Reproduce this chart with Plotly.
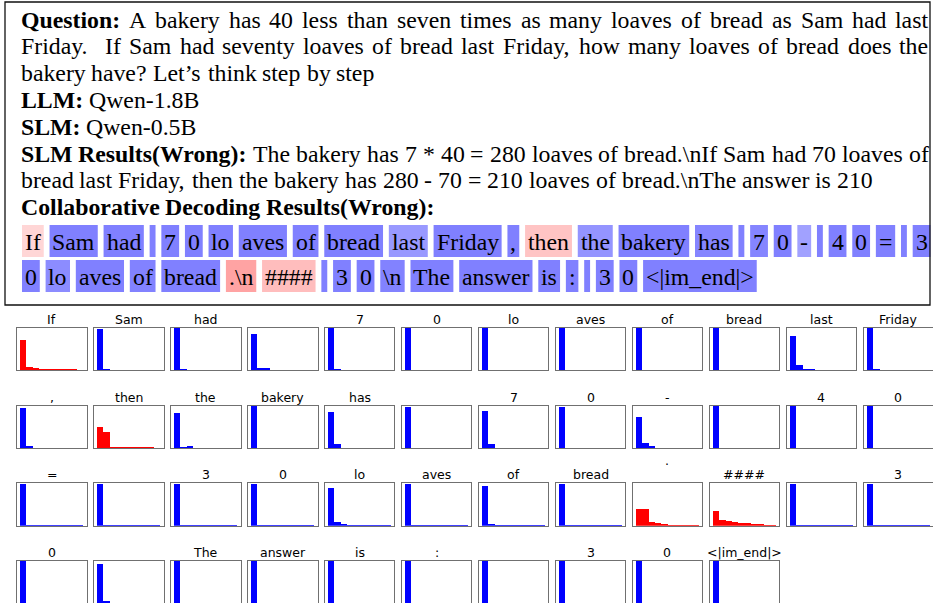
import plotly.graph_objects as go

W, H = 933, 603

# ---------------- data ----------------
paragraph = [
    ("Question:", "A bakery has 40 less than seven times as many loaves of bread as Sam had last", True),
    ("", "Friday.  If Sam had seventy loaves of bread last Friday, how many loaves of bread does the", True),
    ("", "bakery have? Let\u2019s think step by step", False),
    ("LLM:", "Qwen-1.8B", False),
    ("SLM:", "Qwen-0.5B", False),
    ("SLM Results(Wrong):", "The bakery has 7 * 40 = 280 loaves of bread.\\nIf Sam had 70 loaves of", True),
    ("", "bread last Friday, then the bakery has 280 - 70 = 210 loaves of bread.\\nThe answer is 210", False),
    ("Collaborative Decoding Results(Wrong):", "", False),
]

tokens = ["If", "Sam", "had", " ", "7", "0", "lo", "aves", "of", "bread", "last", "Friday",
          ",", "then", "the", "bakery", "has", " ", "7", "0", "-", " ", "4", "0",
          "=", " ", "3", "0", "lo", "aves", "of", "bread", ".\n", "####", " ", "3",
          "0", "\n", "The", "answer", "is", ":", " ", "3", "0", "<|im_end|>"]

# 'L' = token from the large model (red), 'S' = small model (blue)
token_source = ["L", "S", "S", "S", "S", "S", "S", "S", "S", "S", "S", "S",
                "S", "L", "S", "S", "S", "S", "S", "S", "S", "S", "S", "S",
                "S", "S", "S", "S", "S", "S", "S", "S", "L", "L", "S", "S",
                "S", "S", "S", "S", "S", "S", "S", "S", "S", "S"]

# highlight intensity of each token in the decoded text
token_shade = [0.16, 0.5, 0.5, 0.5, 0.5, 0.5, 0.5, 0.5, 0.5, 0.5, 0.4, 0.5,
               0.5, 0.23, 0.42, 0.5, 0.48, 0.5, 0.48, 0.5, 0.37, 0.5, 0.5, 0.5,
               0.5, 0.5, 0.5, 0.5, 0.45, 0.5, 0.49, 0.5, 0.36, 0.26, 0.5, 0.5,
               0.5, 0.49, 0.5, 0.5, 0.5, 0.5, 0.5, 0.5, 0.5, 0.5]

tokens_first_line = 27

# top-10 next-token probabilities per decoding step
probs = [
    [0.71, 0.09, 0.05, 0.03, 0.03, 0.02, 0.02, 0.02, 0.02, 0.01],  # If
    [0.97, 0.02, 0.01, 0.01, 0.01, 0.01, 0.01, 0.01, 0.01, 0.01],  # Sam
    [0.99, 0.02, 0.01, 0.01, 0.01, 0.01, 0.01, 0.01, 0.01, 0.01],  # had
    [0.87, 0.07, 0.05, 0.01, 0.01, 0.01, 0.01, 0.01, 0.01, 0.01],  # ' '
    [0.99, 0.02, 0.01, 0.01, 0.01, 0.01, 0.01, 0.01, 0.01, 0.01],  # 7
    [0.99, 0.01, 0.01, 0.01, 0.01, 0.01, 0.01, 0.01, 0.01, 0.01],  # 0
    [0.99, 0.01, 0.01, 0.01, 0.01, 0.01, 0.01, 0.01, 0.01, 0.01],  # lo
    [0.99, 0.01, 0.01, 0.01, 0.01, 0.01, 0.01, 0.01, 0.01, 0.01],  # aves
    [0.99, 0.01, 0.01, 0.01, 0.01, 0.01, 0.01, 0.01, 0.01, 0.01],  # of
    [0.99, 0.01, 0.01, 0.01, 0.01, 0.01, 0.01, 0.01, 0.01, 0.01],  # bread
    [0.81, 0.12, 0.04, 0.03, 0.01, 0.01, 0.01, 0.01, 0.01, 0.01],  # last
    [0.99, 0.02, 0.01, 0.01, 0.01, 0.01, 0.01, 0.01, 0.01, 0.01],  # Friday
    [0.95, 0.06, 0.01, 0.01, 0.01, 0.01, 0.01, 0.01, 0.01, 0.01],  # ,
    [0.51, 0.39, 0.04, 0.02, 0.02, 0.02, 0.02, 0.02, 0.02, 0.01],  # then
    [0.84, 0.04, 0.05, 0.01, 0.01, 0.01, 0.01, 0.01, 0.01, 0.01],  # the
    [1.00, 0.01, 0.01, 0.01, 0.01, 0.01, 0.01, 0.01, 0.01, 0.01],  # bakery
    [0.86, 0.11, 0.01, 0.01, 0.01, 0.01, 0.01, 0.01, 0.01, 0.01],  # has
    [0.98, 0.01, 0.01, 0.01, 0.01, 0.01, 0.01, 0.01, 0.01, 0.01],  # ' '
    [0.88, 0.11, 0.01, 0.01, 0.01, 0.01, 0.01, 0.01, 0.01, 0.01],  # 7
    [0.98, 0.01, 0.01, 0.01, 0.01, 0.01, 0.01, 0.01, 0.01, 0.01],  # 0
    [0.74, 0.13, 0.06, 0.01, 0.01, 0.01, 0.01, 0.01, 0.01, 0.01],  # -
    [1.00, 0.01, 0.01, 0.01, 0.01, 0.01, 0.01, 0.01, 0.01, 0.01],  # ' '
    [1.00, 0.01, 0.01, 0.01, 0.01, 0.01, 0.01, 0.01, 0.01, 0.01],  # 4
    [1.00, 0.01, 0.01, 0.01, 0.01, 0.01, 0.01, 0.01, 0.01, 0.01],  # 0
    [0.98, 0.01, 0.01, 0.01, 0.01, 0.01, 0.01, 0.01, 0.01, 0.01],  # =
    [0.98, 0.01, 0.01, 0.01, 0.01, 0.01, 0.01, 0.01, 0.01, 0.01],  # ' '
    [0.98, 0.01, 0.01, 0.01, 0.01, 0.01, 0.01, 0.01, 0.01, 0.01],  # 3
    [0.98, 0.01, 0.01, 0.01, 0.01, 0.01, 0.01, 0.01, 0.01, 0.01],  # 0
    [0.875, 0.08, 0.04, 0.01, 0.01, 0.01, 0.01, 0.01, 0.01, 0.01],  # lo
    [0.98, 0.01, 0.01, 0.01, 0.01, 0.01, 0.01, 0.01, 0.01, 0.01],  # aves
    [0.92, 0.03, 0.01, 0.01, 0.01, 0.01, 0.01, 0.01, 0.01, 0.01],  # of
    [0.98, 0.01, 0.01, 0.01, 0.01, 0.01, 0.01, 0.01, 0.01, 0.01],  # bread
    [0.38, 0.38, 0.08, 0.05, 0.03, 0.01, 0.01, 0.01, 0.01, 0.01],  # .\n
    [0.33, 0.13, 0.10, 0.08, 0.06, 0.06, 0.04, 0.04, 0.01, 0.01],  # ####
    [0.98, 0.01, 0.01, 0.01, 0.01, 0.01, 0.01, 0.01, 0.01, 0.01],  # ' '
    [0.98, 0.01, 0.01, 0.01, 0.01, 0.01, 0.01, 0.01, 0.01, 0.01],  # 3
    [1.00, 0.0, 0.0, 0.0, 0.0, 0.0, 0.0, 0.0, 0.0, 0.0],  # 0
    [0.94, 0.05, 0.0, 0.0, 0.0, 0.0, 0.0, 0.0, 0.0, 0.0],  # \n
    [1.00, 0.0, 0.0, 0.0, 0.0, 0.0, 0.0, 0.0, 0.0, 0.0],  # The
    [1.00, 0.0, 0.0, 0.0, 0.0, 0.0, 0.0, 0.0, 0.0, 0.0],  # answer
    [1.00, 0.0, 0.0, 0.0, 0.0, 0.0, 0.0, 0.0, 0.0, 0.0],  # is
    [1.00, 0.0, 0.0, 0.0, 0.0, 0.0, 0.0, 0.0, 0.0, 0.0],  # :
    [1.00, 0.0, 0.0, 0.0, 0.0, 0.0, 0.0, 0.0, 0.0, 0.0],  # ' '
    [1.00, 0.0, 0.0, 0.0, 0.0, 0.0, 0.0, 0.0, 0.0, 0.0],  # 3
    [1.00, 0.0, 0.0, 0.0, 0.0, 0.0, 0.0, 0.0, 0.0, 0.0],  # 0
    [1.00, 0.0, 0.0, 0.0, 0.0, 0.0, 0.0, 0.0, 0.0, 0.0],  # <|im_end|>
]
ranks = list(range(10))

# ---------------- font metrics (Times, per 1000 em) ----------------
_reg = dict(zip("abcdefghijklmnopqrstuvwxyz",
                [444, 500, 444, 500, 444, 333, 500, 500, 278, 278, 500, 278, 778,
                 500, 500, 500, 500, 333, 389, 278, 500, 500, 722, 500, 500, 444]))
_reg.update(zip("ABCDEFGHIJKLMNOPQRSTUVWXYZ",
                [722, 667, 667, 722, 611, 556, 722, 722, 333, 389, 722, 611, 889,
                 722, 722, 556, 722, 667, 556, 611, 722, 722, 944, 722, 722, 611]))
_reg.update({c: 500 for c in "0123456789"})
_reg.update({" ": 250, "#": 500, "(": 333, ")": 333, "*": 500, ",": 250, "-": 333, ".": 250,
             ":": 278, "<": 564, "=": 564, ">": 564, "?": 444, "\\": 278, "_": 500, "|": 200,
             "\u2019": 333})
_bold = dict(zip("abcdefghijklmnopqrstuvwxyz",
                 [500, 556, 444, 556, 444, 333, 500, 556, 278, 333, 556, 278, 833,
                  556, 500, 556, 556, 444, 389, 333, 556, 500, 722, 500, 500, 444]))
_bold.update(zip("ABCDEFGHIJKLMNOPQRSTUVWXYZ",
                 [722, 667, 722, 722, 667, 611, 778, 778, 389, 500, 778, 667, 944,
                  722, 778, 611, 778, 722, 556, 667, 722, 722, 1000, 722, 722, 667]))
_bold.update({" ": 250, "(": 333, ")": 333, ":": 333, "-": 333, ".": 250, ",": 250})


def text_w(s, bold, size):
    tab = _bold if bold else _reg
    return sum(tab.get(ch, 500) for ch in s) * size / 1000.0


def esc(s):
    return s.replace("&", "&amp;").replace("<", "&lt;").replace(">", "&gt;")


def px(x):
    return min(1.0, max(0.0, x / W))


def py(y):
    return min(1.0, max(0.0, 1 - y / H))


SERIF = "Liberation Serif, Times New Roman, serif"
SANS = "DejaVu Sans, sans-serif"
FS = 23.8

fig = go.Figure()
annotations = []
shapes = []

# outer frame of the text panel
shapes.append(dict(type="rect", xref="paper", yref="paper", x0=px(5), x1=px(930),
                   y0=py(305), y1=py(2), line=dict(color="#111111", width=1.3),
                   fillcolor="rgba(0,0,0,0)", layer="above"))

# ---------------- paragraph text ----------------
LEFT, RIGHT = 20.5, 928.5
LINE0, STEP = 19.5, 26.8
for i, (bold, reg, justify) in enumerate(paragraph):
    words = []
    if bold:
        words += [(w, True) for w in bold.split(" ")]
    if reg:
        words += [(w, False) for w in reg.split(" ")]
    widths = [text_w(w, b, FS) for w, b in words]
    n = len(words)
    if justify and n > 1:
        gap = (RIGHT - LEFT - sum(widths)) / (n - 1)
    else:
        gap = 250 * FS / 1000.0
    x = LEFT
    y = LINE0 + i * STEP
    for (w, b), wd in zip(words, widths):
        if w:
            annotations.append(dict(
                text=("<b>%s</b>" % esc(w)) if b else esc(w), x=px(x), y=py(y),
                xref="paper", yref="paper", xanchor="left", yanchor="middle",
                showarrow=False, borderpad=0, borderwidth=0,
                font=dict(family=SERIF, size=FS, color="black")))
        x += wd + gap

# ---------------- highlighted decoded tokens ----------------
PAD, GAP = 2.95, 5.8
ROW_TOP, BOX_H, ROW_STEP = 225, 32, 35
X_START = 22
x = X_START
for k, tok in enumerate(tokens):
    if k == tokens_first_line:
        x = X_START
    row = 0 if k < tokens_first_line else 1
    disp = tok.replace("\n", "\\n").strip(" ")
    wd = text_w(disp, False, FS) + 2 * PAD
    a = token_shade[k]
    v = int(round(255 * (1 - a)))
    col = "rgb(255,%d,%d)" % (v, v) if token_source[k] == "L" else "rgb(%d,%d,255)" % (v, v)
    y0 = ROW_TOP + row * ROW_STEP
    shapes.append(dict(type="rect", xref="paper", yref="paper", x0=px(x), x1=px(x + wd),
                       y0=py(y0 + BOX_H), y1=py(y0), line=dict(width=0), fillcolor=col,
                       layer="below"))
    if disp:
        annotations.append(dict(
            text=esc(disp), x=px(x + wd / 2), y=py(y0 + BOX_H / 2 + 0.5),
            xref="paper", yref="paper", xanchor="center", yanchor="middle",
            showarrow=False, borderpad=0, borderwidth=0,
            font=dict(family=SERIF, size=FS, color="black")))
    x += wd + GAP

# ---------------- grid of probability histograms ----------------
NCOL = 12
COL0, COL_STEP, CELL_W = 17.2, 76.94, 69.5
ROW0, GRID_STEP, CELL_H = 327.8, 77.7, 42.5
layout_axes = {}
for k, tok in enumerate(tokens):
    r, c = divmod(k, NCOL)
    left = COL0 + c * COL_STEP
    top = ROW0 + r * GRID_STEP
    bottom = top + CELL_H
    ybot = py(bottom)
    ytop = py(top)
    idx = "" if k == 0 else str(k + 1)
    color = "#ff0000" if token_source[k] == "L" else "#0000ff"
    fig.add_trace(go.Bar(x=ranks, y=probs[k], width=1, marker=dict(color=color, line=dict(width=0)),
                         xaxis="x" + idx, yaxis="y" + idx, showlegend=False, hoverinfo="skip"))
    ax = dict(showticklabels=False, ticks="", showgrid=False, zeroline=False,
              showline=True, mirror=True, linecolor="#707070", linewidth=1.4, fixedrange=True)
    layout_axes["xaxis" + idx] = dict(ax, domain=[px(left), px(left + CELL_W)], range=[-1, 10],
                                      anchor="y" + idx)
    layout_axes["yaxis" + idx] = dict(ax, domain=[ybot, ytop], range=[0, 1.0], anchor="x" + idx)
    title = tok.split("\n")[0].strip(" ")
    if title:
        annotations.append(dict(
            text=esc(title), x=px(left + CELL_W / 2), y=ytop, xref="paper", yref="paper",
            xanchor="center", yanchor="bottom", yshift=1 + 14 * tok.count("\n"),
            showarrow=False, borderpad=0, borderwidth=0,
            font=dict(family=SANS, size=12.5, color="black")))

fig.update_layout(width=W, height=H, margin=dict(l=0, r=0, t=0, b=0),
                  paper_bgcolor="white", plot_bgcolor="white", bargap=0,
                  annotations=annotations, shapes=shapes, **layout_axes)
fig.write_html("out.html", config={"displayModeBar": False},
               post_script="document.body.style.margin='0';document.body.style.overflow='hidden';")
